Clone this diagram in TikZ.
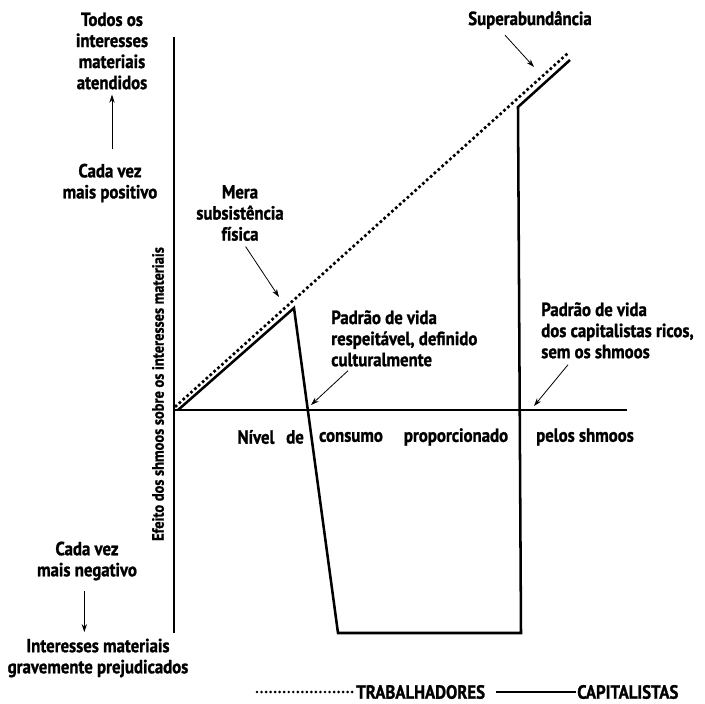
\documentclass[tikz,border=0pt]{standalone}
\usepackage{fontspec}
\setmainfont{PT Sans}[BoldFont={PT Sans Bold}, BoldFeatures={FakeStretch=0.88, FakeBold=1.2}]
\usetikzlibrary{arrows.meta}

\begin{document}
\begin{tikzpicture}[x=0.75pt,y=0.75pt,yscale=-1,xscale=1,
	lbl/.style={font=\bfseries\fontsize{14.3}{15.8}\selectfont, inner sep=0.75pt, align=center},
	pointer/.style={-{Stealth[length=6pt,width=4pt]}, line width=0.6pt},
	workers/.style={line width=2.8pt, dash pattern=on 0pt off 3.9pt, line cap=round},
	capitalists/.style={line width=1.9pt, line join=miter}]
	\useasboundingbox (0,0) rectangle (704,704);
	% axes
	\coordinate (o) at (174,410);
	\draw [line width=1.5pt] (174,37) -- (174,633);
	\draw [line width=1.5pt] (o) -- (627,410);
	% curves
	\draw [workers] (176,406) -- (567,54);
	\draw [capitalists] (178,410) -- (294,308) -- (338,633) -- (521,633) -- (518,107) -- (570,60);
	% left side
	\draw (112,51) node [lbl] (top) {Todos os\\interesses\\materiais\\atendidos};
	\draw (110,183) node [lbl] (pos) {Cada vez\\mais positivo};
	\draw [pointer, shorten <=10pt, shorten >=3pt] (top.south |- pos.north) -- (top.south);
	\draw (87,561) node [lbl] (neg) {Cada vez\\mais negativo};
	\draw (98,658) node [lbl] (bad) {Interesses materiais\\gravemente prejudicados};
	\draw [pointer, shorten <=7pt, shorten >=4pt] ([xshift=-2pt]neg.south) -- ([xshift=-2pt]neg.south |- bad.north);
	\draw (158,394) node [lbl, font=\bfseries\fontsize{12.3}{14}\selectfont, rotate=90] (ylab) {Efeito dos shmoos sobre os interesses materiais};
	% pointers
	\draw (240,213) node [lbl] (mera) {Mera\\subsistência\\física};
	\coordinate (sub) at (279,297);
	\draw [pointer, shorten <=4pt] ([xshift=2pt]mera.south) -- (sub);
	\draw (530,20) node [lbl] (super) {Superabundância};
	\coordinate (abund) at (534,67);
	\draw [pointer] ([shift={(-25,5)}]super.south) -- (abund);
	\draw (330,309) node [lbl, align=left, anchor=north west] (resp) {Padrão de vida\\respeitável, definido\\culturalmente};
	\coordinate (cult) at (311,405);
	\draw [pointer] ([shift={(18,3)}]resp.south west) -- (cult);
	\draw (540,301) node [lbl, align=left, anchor=north west] (ricos) {Padrão de vida\\dos capitalistas ricos,\\sem os shmoos};
	\coordinate (sem) at (534,406);
	\draw [pointer] ([shift={(28,5)}]ricos.south west) -- (sem);
	% horizontal axis words
	\draw (256,437) node [lbl] (nivel) {Nível};
	\draw (295,437) node [lbl] (de) {de};
	\draw (351,437) node [lbl] (consumo) {consumo};
	\draw (456,437) node [lbl] (prop) {proporcionado};
	\draw (585,437) node [lbl] (pelos) {pelos shmoos};
	% legend
	\draw (355,692) node [lbl, anchor=west] (trab) {TRABALHADORES};
	\coordinate (trabkey) at (257,692);
	\draw [workers, line width=2.2pt, dash pattern=on 0pt off 3.4pt] (trabkey) -- ([xshift=-2pt]trab.west);
	\draw (576,692) node [lbl, anchor=west] (cap) {CAPITALISTAS};
	\coordinate (capkey) at (496,692);
	\draw [capitalists, line width=1.3pt] (capkey) -- (cap.west);
\end{tikzpicture}
\end{document}
